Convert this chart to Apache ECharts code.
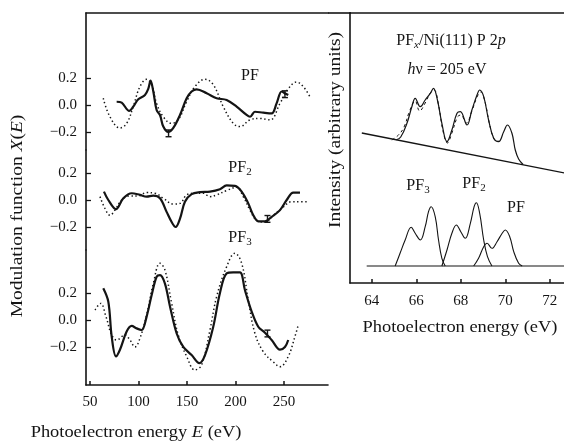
<!DOCTYPE html>
<html><head><meta charset="utf-8">
<script src="https://cdn.jsdelivr.net/npm/echarts@6/dist/echarts.min.js"></script>
<style>html,body{margin:0;padding:0;background:#fff}#c{width:564px;height:443px}</style>
</head><body><div id="c"></div>
<script>
// ---------- Left panel: modulation function X(E) vs photoelectron energy E (eV) ----------
const xTicksLeft = [50, 100, 150, 200, 250];
const yTicksLeft = [-0.2, 0, 0.2];

// PF: experiment (solid) and theory (dotted)
const pfExpE = [77.5, 82.7, 90.5, 94.6, 99.8, 106.7, 110.1, 112.5, 115.3, 118.7, 122.2, 125.6, 130.7, 135.9, 142.8, 149.7, 154.8, 160, 170.3, 180.6, 190.9, 201.2, 211.5, 215, 220.1, 228.7, 237.3, 242.4, 247.6, 251, 254.4];
const pfExpX = [0.024, 0.017, -0.044, -0.012, 0.042, 0.074, 0.12, 0.18, 0.10, -0.037, -0.074, -0.16, -0.20, -0.17, -0.074, 0.05, 0.10, 0.116, 0.087, 0.05, 0.037, -0.012, -0.074, -0.087, -0.05, -0.057, -0.062, 0.012, 0.10, 0.087, 0.074];
const pfThE = [63.7, 70.6, 80.9, 87.8, 94.6, 101.5, 108.4, 113.6, 118.7, 125.6, 134.2, 141, 149.7, 158.2, 168.6, 177.1, 187.4, 197.7, 204.6, 215, 225.3, 235.6, 245.9, 254.4, 263, 269.9, 276.8];
const pfThX = [0.05, -0.087, -0.17, -0.136, -0.012, 0.136, 0.19, 0.15, 0.012, -0.087, -0.136, -0.11, 0.025, 0.136, 0.19, 0.15, -0.012, -0.136, -0.16, -0.11, -0.10, -0.11, 0.012, 0.12, 0.17, 0.136, 0.06];
const pfErrE = [131, 251];
const pfErrLo = [-0.235, 0.055];
const pfErrHi = [-0.185, 0.105];

// PF2
const pf2ExpE = [64.4, 68.9, 76.8, 84.4, 93, 101.5, 108.4, 115.3, 122.2, 129, 134.2, 138.3, 142.8, 147.9, 154.8, 163.4, 173.7, 184, 190.9, 199.5, 206.4, 213.2, 218.4, 223.5, 230.4, 237.3, 245.9, 252.8, 259.6, 266.5];
const pf2ExpX = [0.062, 0, -0.068, 0.013, 0.05, 0.038, 0.025, 0.032, 0.013, -0.088, -0.163, -0.2, -0.138, -0.013, 0.043, 0.058, 0.062, 0.08, 0.108, 0.105, 0.062, -0.025, -0.113, -0.158, -0.158, -0.125, -0.075, 0, 0.055, 0.055];
const pf2ThE = [60.3, 65.5, 70.6, 75.8, 82.7, 91.2, 99.8, 108.4, 117, 125.6, 135.9, 142.8, 149.7, 158.2, 166.8, 173.7, 180.6, 190.9, 201.2, 208, 215, 221.8, 230.4, 239, 247.6, 257.9, 266.5, 273.4];
const pf2ThX = [0.025, -0.063, -0.113, -0.075, 0, 0.03, 0.03, 0.055, 0.05, 0.013, -0.03, -0.025, 0.038, 0.05, 0.05, 0.025, 0.038, 0.07, 0.095, 0.025, -0.075, -0.15, -0.163, -0.113, -0.063, -0.013, -0.013, -0.013];
const pf2ErrE = [233];
const pf2ErrLo = [-0.165];
const pf2ErrHi = [-0.115];

// PF3
const pf3ExpE = [63.7, 68.9, 72.4, 76.8, 80.9, 87.8, 93, 98.1, 103.3, 108.4, 113.6, 118.7, 122.2, 127.3, 132.5, 139.4, 146.2, 154.8, 162.7, 168.6, 177.1, 184, 190.9, 197.7, 204.6, 209.8, 216.7, 223.5, 230.4, 237.3, 245.9, 251, 254.4];
const pf3ExpX = [0.235, 0.136, -0.123, -0.27, -0.22, -0.086, -0.044, -0.062, -0.074, 0.025, 0.185, 0.32, 0.333, 0.27, 0.1, -0.1, -0.2, -0.26, -0.32, -0.26, -0.05, 0.2, 0.346, 0.353, 0.353, 0.22, 0.062, -0.05, -0.094, -0.148, -0.22, -0.2, -0.148];
const pf3ThE = [55.2, 61, 66.5, 72.4, 77.5, 86.1, 91.2, 96.4, 101.5, 108.4, 115.3, 122.2, 127.3, 134.2, 141, 149.7, 158.2, 165.1, 173.7, 180.6, 190.9, 199.5, 206.4, 213.2, 220.1, 228.7, 239, 245.9, 254.4, 261.3, 264.7];
const pf3ThX = [0.074, 0.123, 0.025, -0.111, -0.148, -0.111, -0.148, -0.2, -0.136, 0.037, 0.27, 0.42, 0.37, 0.123, -0.111, -0.27, -0.37, -0.333, -0.074, 0.173, 0.395, 0.494, 0.42, 0.148, -0.1, -0.235, -0.31, -0.346, -0.27, -0.123, -0.037];
const pf3ErrE = [233];
const pf3ErrLo = [-0.125];
const pf3ErrHi = [-0.075];

// ---------- Right panel: P 2p spectrum (arbitrary intensity units) ----------
const xTicksRight = [64, 66, 68, 70, 72];
const bgE = [63.55, 72.66];
const bgI = [150, 110];
const fitE = [65.1, 65.3, 65.58, 65.8, 65.95, 66.18, 66.4, 66.63, 66.77, 66.95, 67.15, 67.38, 67.6, 67.83, 67.98, 68.28, 68.5, 68.73, 68.85, 69.03, 69.25, 69.48, 69.7, 69.93, 70.1, 70.3, 70.45, 70.6, 70.8];
const fitI = [143.2, 146, 159.7, 176.3, 184.7, 176.3, 183, 189.7, 194.7, 183, 159.7, 141.3, 153, 169.7, 171.3, 158, 173, 188, 193, 186.3, 163, 144.7, 141.3, 151.3, 158, 149.7, 133, 124, 118.5];
const dataE = [64.9, 65.2, 65.45, 65.7, 65.95, 66.15, 66.4, 66.63, 66.8, 67.0, 67.2, 67.4, 67.6, 67.85, 68.0, 68.25, 68.5, 68.75, 68.9, 69.1, 69.3, 69.5, 69.7];
const dataI = [143, 148, 156, 172, 182, 172, 180, 190, 193, 178, 152, 140, 150, 166, 168, 160, 172, 187, 191, 180, 158, 144, 142];
const baseE = [63.77, 72.66];
const baseI = [17, 17];
const cPF3E = [65.05, 65.27, 65.5, 65.77, 65.95, 66.18, 66.4, 66.55, 66.67, 66.85, 67.0, 67.15, 67.3];
const cPF3I = [17, 29.7, 43, 55.7, 49.7, 43, 56.3, 71.3, 76.3, 66.3, 43, 24.7, 17];
const cPF2E = [67.15, 67.38, 67.6, 67.8, 68.0, 68.2, 68.43, 68.6, 68.7, 68.85, 69.03, 69.2, 69.4];
const cPF2I = [17, 33, 49.7, 58, 51.3, 44.7, 59.7, 76.3, 80.3, 69.7, 43, 26.3, 17];
const cPFE = [68.58, 68.8, 69.03, 69.18, 69.4, 69.63, 69.86, 70.0, 70.2, 70.38, 70.6, 70.76];
const cPFI = [17, 24.7, 36.3, 39.7, 34.7, 41.3, 49.7, 53, 46.3, 31.3, 19.7, 17];

// ---------- build ----------
const zip = (a, b) => a.map((v, i) => [v, b[i]]);
const zip3 = (a, b, c) => a.map((v, i) => [v, b[i], c[i]]);
const INK = '#141414';
const FONT = '"Liberation Serif", "Times New Roman", serif';
const fmt = v => (v < 0 ? '\u2212' : '') + Math.abs(v).toFixed(1);

const LX = [45.9, 295.4];
const leftX = (gi, show) => ({
  type: 'value', gridIndex: gi, min: LX[0], max: LX[1], position: show === 'top' ? 'top' : 'bottom',
  splitLine: { show: false },
  axisLine: { show: !!show, onZero: false, lineStyle: { color: INK, width: 1.6 } },
  axisTick: { show: show === 'bottom', inside: true, length: 4, customValues: xTicksLeft, lineStyle: { color: INK, width: 1.5 } },
  axisLabel: { show: show === 'bottom', customValues: xTicksLeft, margin: 10, color: INK, fontFamily: FONT, fontSize: 15 }
});
const leftY = (gi, min, max) => ({
  type: 'value', gridIndex: gi, min, max, splitLine: { show: false },
  axisLine: { show: true, onZero: false, lineStyle: { color: INK, width: 1.6 } },
  axisTick: { show: true, inside: true, length: 5, customValues: yTicksLeft, lineStyle: { color: INK, width: 1.3 } },
  axisLabel: { show: true, customValues: yTicksLeft, formatter: fmt, margin: 9, color: INK, fontFamily: FONT, fontSize: 15 }
});

const expLine = (xi, d) => ({ type: 'line', xAxisIndex: xi, yAxisIndex: xi, data: d, showSymbol: false, smooth: 0.35, lineStyle: { color: INK, width: 2.2 }, z: 3 });
const thLine = (xi, d) => ({ type: 'line', xAxisIndex: xi, yAxisIndex: xi, data: d, showSymbol: false, smooth: 0.4, lineStyle: { color: INK, width: 1.5, type: [1.4, 2.6] }, z: 2 });
const errBars = (xi, d) => ({
  type: 'custom', xAxisIndex: xi, yAxisIndex: xi, data: d, z: 4,
  renderItem: (params, api) => {
    const x = api.value(0);
    const a = api.coord([x, api.value(1)]);
    const b = api.coord([x, api.value(2)]);
    const st = { stroke: INK, lineWidth: 1.4 };
    return { type: 'group', children: [
      { type: 'line', shape: { x1: a[0], y1: a[1], x2: b[0], y2: b[1] }, style: st },
      { type: 'line', shape: { x1: a[0] - 3, y1: a[1], x2: a[0] + 3, y2: a[1] }, style: st },
      { type: 'line', shape: { x1: b[0] - 3, y1: b[1], x2: b[0] + 3, y2: b[1] }, style: st }
    ] };
  }
});
const rLine = (d, w, type) => ({ type: 'line', xAxisIndex: 3, yAxisIndex: 3, data: d, showSymbol: false, smooth: 0.4, lineStyle: { color: INK, width: w, type: type || 'solid' } });

const sub = { fontSize: 11, lineHeight: 8, verticalAlign: 'bottom', fontFamily: FONT, fill: INK };
const main = { fontSize: 16, lineHeight: 20, fontFamily: FONT, fill: INK };
const ital = { fontSize: 16, lineHeight: 20, fontFamily: FONT, fontStyle: 'italic', fill: INK };
const rich = { m: main, s: sub, i: ital, si: Object.assign({}, sub, { fontStyle: 'italic' }) };
const txt = (x, y, text, opts) => Object.assign({
  type: 'text', x, y, z: 10,
  style: Object.assign({ text, rich, font: '16px ' + FONT, fill: INK, align: 'center', verticalAlign: 'middle' }, (opts && opts.style) || {})
}, opts && opts.el || {});

const option = {
  animation: false,
  backgroundColor: '#fff',
  grid: [
    { left: 86, right: 236, top: 13, height: 137 },
    { left: 86, right: 236, top: 150, height: 100 },
    { left: 86, right: 236, top: 250, height: 135 },
    { left: 350, right: 0, top: 13, height: 270 }
  ],
  xAxis: [
    leftX(0, 'top'),
    leftX(1, false),
    leftX(2, 'bottom'),
    { type: 'value', gridIndex: 3, min: 63.02, max: 72.64, splitLine: { show: false },
      axisLine: { show: true, onZero: false, lineStyle: { color: INK, width: 1.6 } },
      axisTick: { show: true, inside: true, length: 4, customValues: xTicksRight, lineStyle: { color: INK, width: 1.5 } },
      axisLabel: { show: true, customValues: xTicksRight, margin: 11, color: INK, fontFamily: FONT, fontSize: 15 } },
    { type: 'value', gridIndex: 3, min: 63.02, max: 72.64, position: 'top', splitLine: { show: false },
      axisLine: { show: true, onZero: false, lineStyle: { color: INK, width: 1.6 } }, axisTick: { show: false }, axisLabel: { show: false } }
  ],
  yAxis: [
    leftY(0, -0.3333, 0.6815),
    leftY(1, -0.3704, 0.3704),
    leftY(2, -0.4815, 0.5185),
    { type: 'value', gridIndex: 3, min: 0, max: 270, splitLine: { show: false },
      axisLine: { show: true, onZero: false, lineStyle: { color: INK, width: 1.6 } }, axisTick: { show: false }, axisLabel: { show: false } }
  ],
  series: [
    thLine(0, zip(pfThE, pfThX)), expLine(0, zip(pfExpE, pfExpX)), errBars(0, zip3(pfErrE, pfErrLo, pfErrHi)),
    thLine(1, zip(pf2ThE, pf2ThX)), expLine(1, zip(pf2ExpE, pf2ExpX)), errBars(1, zip3(pf2ErrE, pf2ErrLo, pf2ErrHi)),
    thLine(2, zip(pf3ThE, pf3ThX)), expLine(2, zip(pf3ExpE, pf3ExpX)), errBars(2, zip3(pf3ErrE, pf3ErrLo, pf3ErrHi)),
    Object.assign(rLine(zip(bgE, bgI), 1.3), { smooth: false }),
    rLine(zip(dataE, dataI), 1, [3, 3]),
    rLine(zip(fitE, fitI), 1.2),
    Object.assign(rLine(zip(baseE, baseI), 1.2), { smooth: false }),
    rLine(zip(cPF3E, cPF3I), 1.1),
    rLine(zip(cPF2E, cPF2I), 1.1),
    rLine(zip(cPFE, cPFI), 1.1)
  ],
  graphic: [
    { type: 'line', shape: { x1: 328, y1: 13, x2: 351, y2: 13 }, style: { stroke: INK, lineWidth: 1.6 } },
    txt(250, 76, '{m|PF}'),
    txt(240, 168, '{m|PF}{s|2}'),
    txt(240, 238, '{m|PF}{s|3}'),
    txt(136, 433, '{m|Photoelectron energy }{i|E}{m| (eV)}', { el: { scaleX: 1.15 } }),
    txt(18, 216, '{m|Modulation function }{i|X}{m|(}{i|E}{m|)}', { el: { rotation: Math.PI / 2, scaleX: 1.22 } }),
    txt(451, 41, '{m|PF}{si|x}{m|/Ni(111) P 2}{i|p}'),
    txt(447, 70, '{i|h}{m|\u03BD = 205 eV}'),
    txt(418, 186, '{m|PF}{s|3}'),
    txt(474, 184, '{m|PF}{s|2}'),
    txt(516, 208, '{m|PF}'),
    txt(460, 328, '{m|Photoelectron energy (eV)}', { el: { scaleX: 1.15 } }),
    txt(336, 130, '{m|Intensity (arbitrary units)}', { el: { rotation: Math.PI / 2, scaleX: 1.22 } })
  ]
};
const chart = echarts.init(document.getElementById('c'), null, { renderer: 'canvas' });
chart.setOption(option);
</script>
</body></html>
